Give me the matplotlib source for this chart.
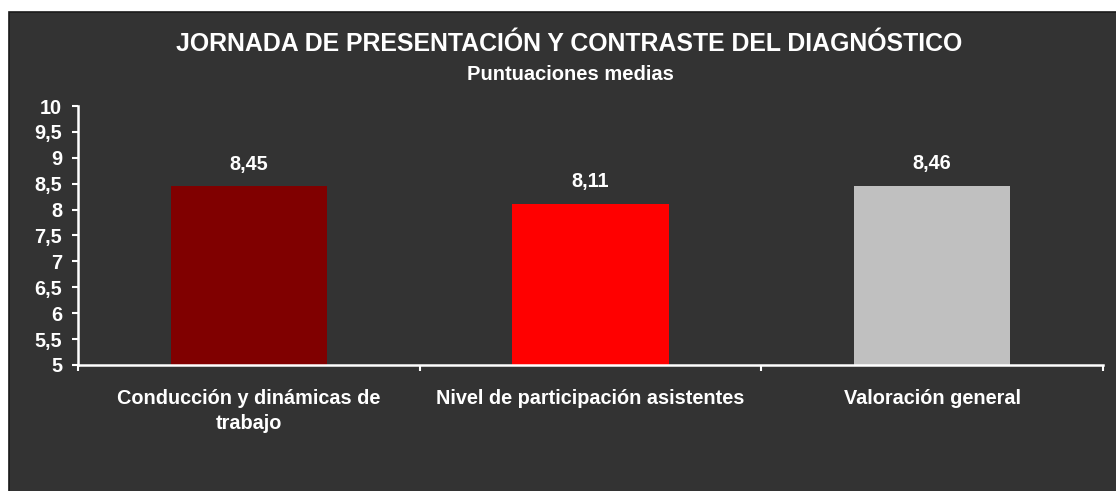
import matplotlib
matplotlib.use("Agg")
import matplotlib.pyplot as plt
from matplotlib.patches import Rectangle
from matplotlib.ticker import FixedLocator

categories = ["Conducción y dinámicas de\ntrabajo", "Nivel de participación asistentes", "Valoración general"]
values = [8.45, 8.11, 8.46]
value_labels = ["8,45", "8,11", "8,46"]
colors = ["#800000", "#FF0000", "#C0C0C0"]
yticks = [5, 5.5, 6, 6.5, 7, 7.5, 8, 8.5, 9, 9.5, 10]
ytick_labels = ["5", "5,5", "6", "6,5", "7", "7,5", "8", "8,5", "9", "9,5", "10"]

plt.rcParams['font.family'] = ['Liberation Sans', 'DejaVu Sans']
plt.rcParams['font.weight'] = 'bold'

W, H = 1116, 491
fig = plt.figure(figsize=(W / 100, H / 100), dpi=100, facecolor="white")

# dark panel
fig.patches.append(Rectangle((9 / W, -0.01), 1.01 - 9 / W, 1.01 - 12 / H, transform=fig.transFigure,
                             facecolor="#333333", edgecolor="#1a1a1a", linewidth=1.2, zorder=-5))

ax = fig.add_axes([78 / W, 1 - 365 / H, (1103 - 78) / W, (365 - 106) / H])
ax.set_facecolor("none")
ax.set_zorder(2)

FS = 14.3
x = list(range(len(categories)))
ax.bar(x, [v - 5 for v in values], bottom=5, width=0.457, color=colors, zorder=2)
for xi, v, lab in zip(x, values, value_labels):
    ax.annotate(lab, (xi, v), xytext=(0, 9), textcoords="offset points",
                ha="center", va="bottom", color="white", fontsize=FS, fontweight="bold")

ax.set_xlim(-0.5, 2.5)
ax.set_ylim(5, 10)
ax.set_yticks(yticks)
ax.set_yticklabels(ytick_labels)

ax.xaxis.set_major_locator(FixedLocator([-0.5, 0.5, 1.5, 2.5]))
ax.xaxis.set_major_formatter(plt.NullFormatter())
ax.xaxis.set_minor_locator(FixedLocator(x))
ax.set_xticklabels(categories, minor=True)
ax.tick_params(axis="x", which="minor", length=0, pad=17, labelsize=FS, labelcolor="white")
ax.tick_params(axis="x", which="major", length=4.5, width=1.5, color="white", direction="out")
ax.tick_params(axis="y", length=4.5, width=1.5, color="white", direction="out", labelsize=FS,
               labelcolor="white", pad=7)
for t in ax.get_xticklabels(minor=True):
    t.set_fontweight("bold")
    t.set_linespacing(1.4)
for t in ax.get_yticklabels():
    t.set_fontweight("bold")

for s in ["top", "right"]:
    ax.spines[s].set_visible(False)
for s in ["left", "bottom"]:
    ax.spines[s].set_color("white")
    ax.spines[s].set_linewidth(1.8)

fig.text(569 / W, 1 - 44 / H, "JORNADA DE PRESENTACIÓN Y CONTRASTE DEL DIAGNÓSTICO",
         ha="center", va="center", color="white", fontsize=17.9, fontweight="bold")
fig.text(570 / W, 1 - 75 / H, "Puntuaciones medias",
         ha="center", va="center", color="white", fontsize=14.5, fontweight="bold")

fig.savefig("out.png", dpi=100, facecolor="white")
